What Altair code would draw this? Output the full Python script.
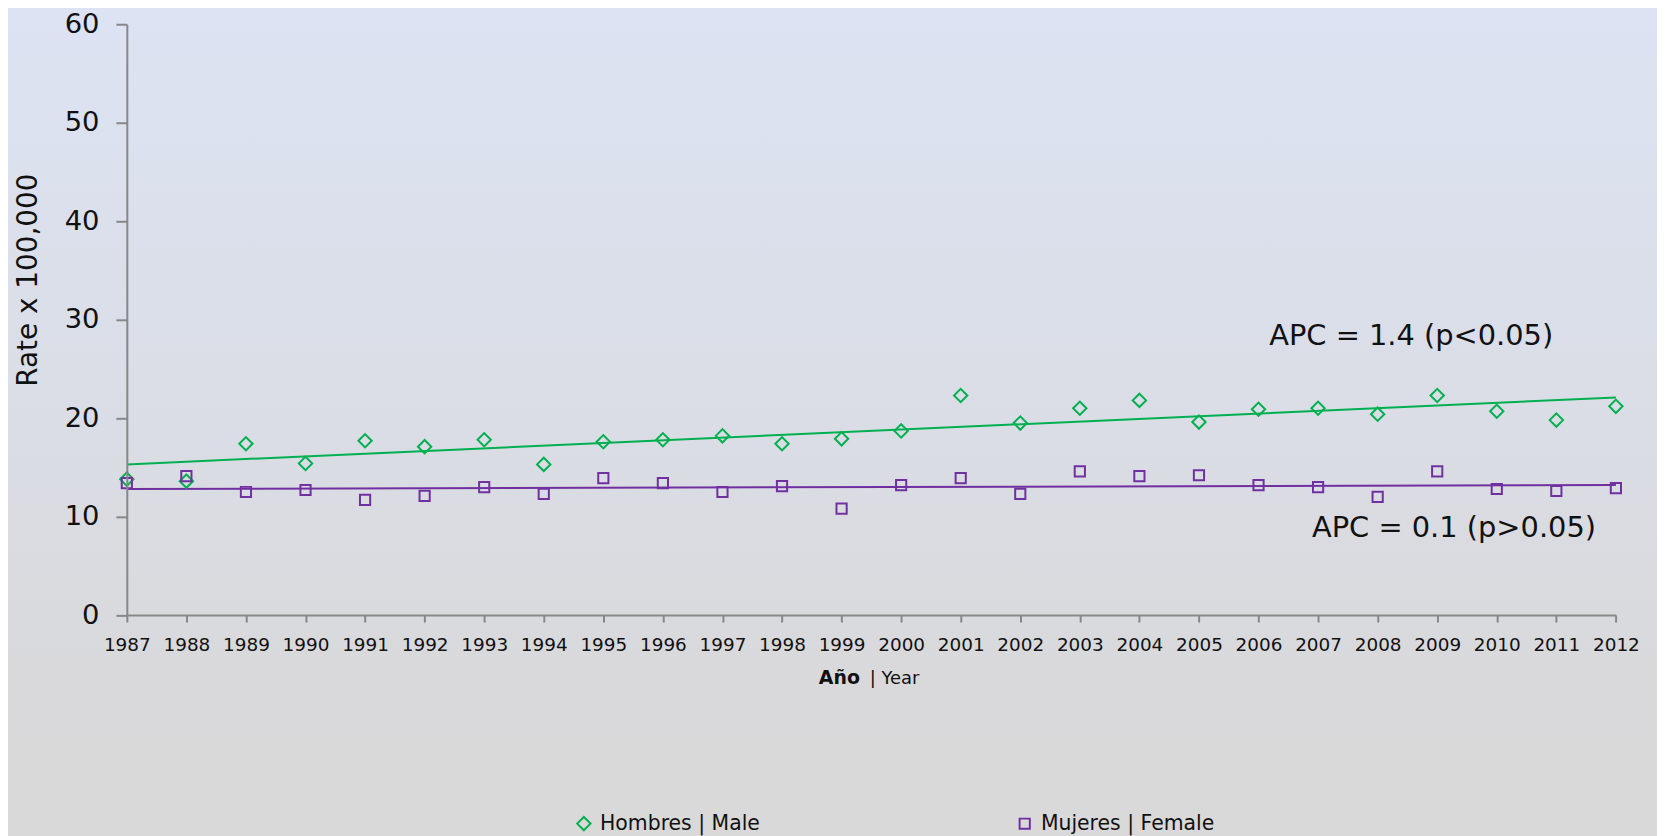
import altair as alt
import pandas as pd

# ---- data ----
years = list(range(1987, 2013))
male = [13.8, 13.6, 17.4, 15.4, 17.7, 17.1, 17.8, 15.3, 17.6,
        17.8, 18.2, 17.4, 17.9, 18.7, 22.3, 19.5, 21.0, 21.8,
        19.6, 20.9, 21.0, 20.4, 22.3, 20.7, 19.8, 21.2]
female = [13.4, 14.1, 12.5, 12.7, 11.7, 12.1, 13.0, 12.3, 13.9,
          13.4, 12.5, 13.1, 10.8, 13.2, 13.9, 12.3, 14.6, 14.1,
          14.2, 13.2, 13.0, 12.0, 14.6, 12.8, 12.6, 12.9]
trend_years = [1987, 2012]
male_trend = [15.3, 22.1]
female_trend = [12.8, 13.2]
series = ["Hombres | Male", "Mujeres | Female"]
y_ticks = [0, 10, 20, 30, 40, 50, 60]
apc_male = "APC = 1.4 (p<0.05)"
apc_female = "APC = 0.1 (p>0.05)"

GREEN = "#00B050"
PURPLE = "#7030A0"
AXIS = "#878787"
FONT = "DejaVu Sans"

W = 1496.3
H = 593.7
PAD = {"left": 119.4, "top": 14.3, "right": 41.3, "bottom": 220}

pts = pd.DataFrame({
    "year": years * 2,
    "rate": male + female,
    "serie": [series[0]] * len(years) + [series[1]] * len(years),
})
mt = pd.DataFrame({"year": trend_years, "rate": male_trend})
ft = pd.DataFrame({"year": trend_years, "rate": female_trend})

xs = alt.Scale(domain=[1987, 2012], nice=False, zero=False)
ys = alt.Scale(domain=[0, 60], nice=False)

bg = alt.Chart(pd.DataFrame({"a": [0]})).mark_rect(
    color=alt.Gradient(
        gradient="linear",
        stops=[alt.GradientStop(color="#dde3f3", offset=0),
               alt.GradientStop(color="#dadde5", offset=0.5),
               alt.GradientStop(color="#d9d9db", offset=0.8),
               alt.GradientStop(color="#d9d9d9", offset=1)],
        x1=0, x2=0, y1=0, y2=1),
).encode(x=alt.value(-130), x2=alt.value(W + 60),
         y=alt.value(-20), y2=alt.value(H + 240))

base_x = alt.X("year:Q", scale=xs, axis=alt.Axis(
    values=years, format="d", title=None, labelFontSize=18.5,
    labelColor="#111", tickSize=7, labelPadding=14, labelFlush=False,
    domainColor=AXIS, tickColor=AXIS, domainWidth=2, tickWidth=2,
    grid=False, zindex=1))
base_y = alt.Y("rate:Q", scale=ys, axis=alt.Axis(
    values=y_ticks, title="Rate x 100,000", titleFontSize=28,
    titleFontWeight="normal", titleColor="#111", titleX=-98.4, titleY=256.7,
    titleAngle=270, titleAlign="center", titleBaseline="middle",
    labelFontSize=27.5, labelColor="#111", tickSize=11, labelPadding=17,
    domainColor=AXIS, tickColor=AXIS, domainWidth=2, tickWidth=2,
    grid=False, zindex=1))

male_line = alt.Chart(mt).mark_line(color=GREEN, strokeWidth=2).encode(x=base_x, y=base_y)
female_line = alt.Chart(ft).mark_line(color=PURPLE, strokeWidth=2).encode(x="year:Q", y="rate:Q")

points = alt.Chart(pts).mark_point(filled=False, strokeWidth=2, opacity=1).encode(
    x="year:Q", y="rate:Q",
    color=alt.Color("serie:N", scale=alt.Scale(domain=series, range=[GREEN, PURPLE]),
                    legend=alt.Legend(orient="none", legendX=449, legendY=793,
                                      direction="horizontal", title=None,
                                      labelFontSize=20.5, labelColor="#111",
                                      labelLimit=400, labelOffset=6,
                                      columnPadding=255, padding=0,
                                      symbolSize=120, symbolStrokeWidth=2)),
    shape=alt.Shape("serie:N", scale=alt.Scale(domain=series, range=["diamond", "square"])),
    size=alt.Size("serie:N", scale=alt.Scale(domain=series, range=[180, 105]), legend=None),
)

one = pd.DataFrame({"a": [0]})
t1 = alt.Chart(one).mark_text(text=apc_male, fontSize=29, align="center",
                              baseline="alphabetic", color="#111").encode(
    x=alt.value(1290.6), y=alt.value(322.7))
t2 = alt.Chart(one).mark_text(text=apc_female, fontSize=29, align="center",
                              baseline="alphabetic", color="#111").encode(
    x=alt.value(1333.6), y=alt.value(515.7))
xt1 = alt.Chart(one).mark_text(text="Año", fontSize=19, fontWeight="bold",
                               align="right", baseline="alphabetic", color="#111").encode(
    x=alt.value(736.6), y=alt.value(663.2))
xt2 = alt.Chart(one).mark_text(text="|  Year", fontSize=18, align="left",
                               baseline="alphabetic", color="#111").encode(
    x=alt.value(746.6), y=alt.value(663.2))

chart = alt.layer(bg, male_line, female_line, points, t1, t2, xt1, xt2).properties(
    width=W, height=H, padding=PAD,
    autosize=alt.AutoSizeParams(type="none"),
    background="#d9d9d9",
).configure(font=FONT).configure_view(stroke=None)

chart.save("out.html", embed_options={"renderer": "svg", "actions": False})
